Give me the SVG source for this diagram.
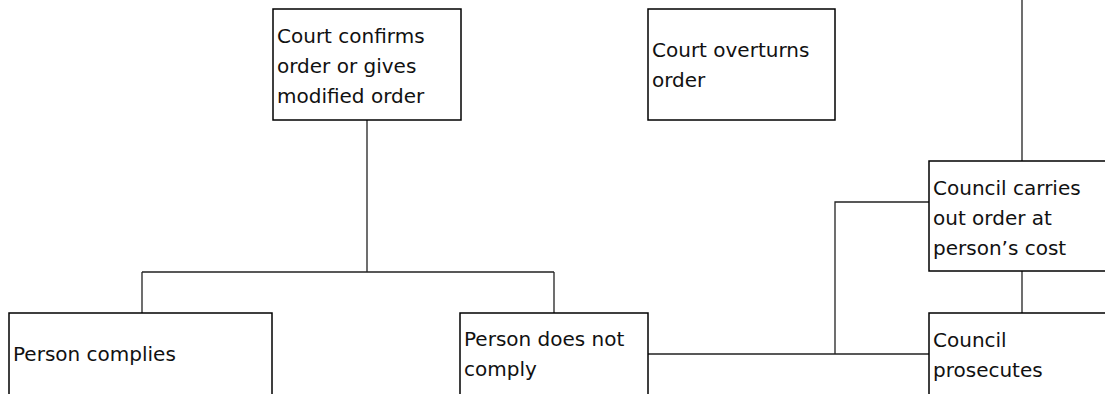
<svg xmlns="http://www.w3.org/2000/svg" width="1105" height="394" viewBox="0 0 1105 394">
<style>
.box{fill:#fff;stroke:#000;stroke-width:1.5}
.lbl{font-family:"DejaVu Sans",sans-serif;font-size:20px;fill:#111}
.conn{fill:none;stroke:#222;stroke-width:1.3}
</style>
<rect width="1105" height="394" fill="#fff"/>
<g id="connectors">
<path class="conn" d="M367 120V272M142 272H554M142 272V313M554 272V313"/>
<path class="conn" d="M648 354H929M835 354V202H929"/>
<path class="conn" d="M1022 0V161M1022 271V313"/>
</g>
<g id="court-confirms">
<rect class="box" x="273" y="9" width="188" height="111"/>
<text class="lbl" x="277"><tspan x="277" y="43">Court confirms</tspan><tspan x="277" y="73">order or gives</tspan><tspan x="277" y="103">modified order</tspan></text>
</g>
<g id="court-overturns">
<rect class="box" x="648" y="9" width="187" height="111"/>
<text class="lbl"><tspan x="652" y="57">Court overturns</tspan><tspan x="652" y="87">order</tspan></text>
</g>
<g id="council-carries">
<rect class="box" x="929" y="161" width="186" height="110"/>
<text class="lbl"><tspan x="933" y="195">Council carries</tspan><tspan x="933" y="225">out order at</tspan><tspan x="933" y="255">person’s cost</tspan></text>
</g>
<g id="person-complies">
<rect class="box" x="9" y="313" width="263" height="84"/>
<text class="lbl" x="13" y="361">Person complies</text>
</g>
<g id="person-not-comply">
<rect class="box" x="460" y="313" width="188" height="84"/>
<text class="lbl"><tspan x="464" y="346">Person does not</tspan><tspan x="464" y="376">comply</tspan></text>
</g>
<g id="council-prosecutes">
<rect class="box" x="929" y="313" width="186" height="84"/>
<text class="lbl"><tspan x="933" y="347">Council</tspan><tspan x="933" y="377">prosecutes</tspan></text>
</g>
</svg>
